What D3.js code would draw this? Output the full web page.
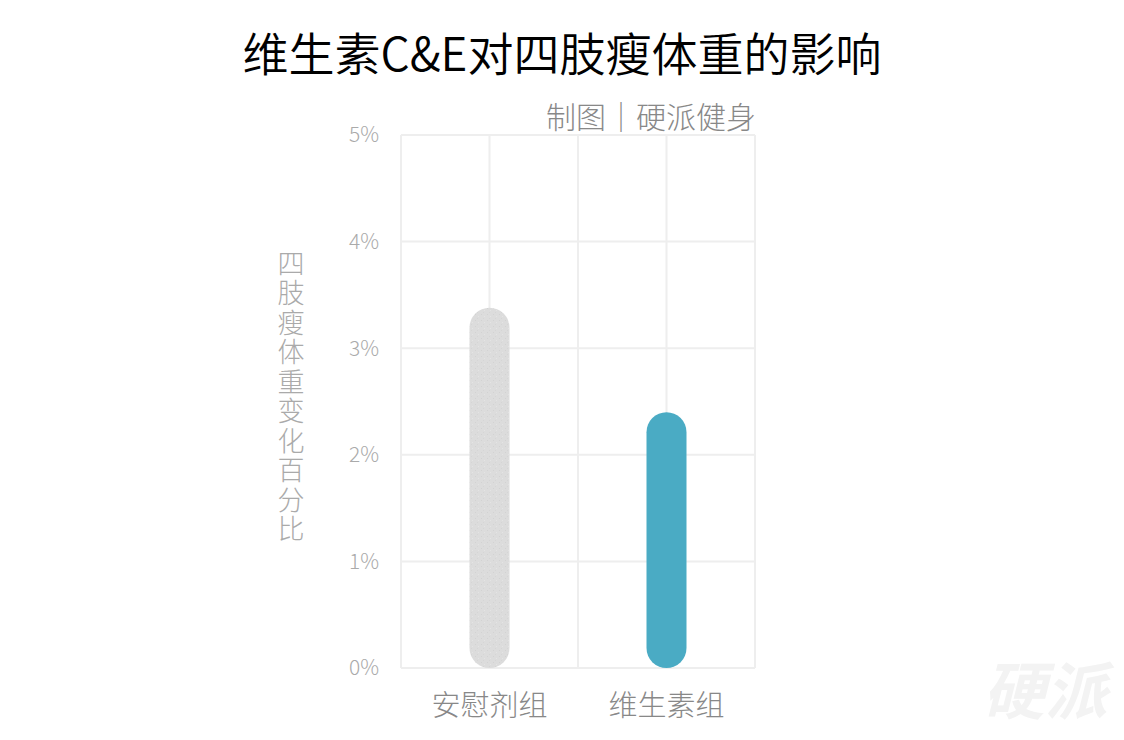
<!DOCTYPE html>
<html><head><meta charset="utf-8">
<script src="https://cdn.jsdelivr.net/npm/d3@7"></script>
<style>body{margin:0;background:#fff;}svg{display:block;}</style>
</head><body>
<svg id="c" width="1124" height="740"></svg>
<script>
const categories = ["安慰剂组", "维生素组"];
const values = [3.38, 2.4];
const barColors = ["#dcdcdc", "#4aabc4"];
const yTicks = [0, 1, 2, 3, 4, 5];
const titleText = "维生素C&E对四肢瘦体重的影响";
const subtitleText = "制图｜硬派健身";
const yTitle = "四肢瘦体重变化百分比";

const svg = d3.select("#c");
const font = "'Noto Sans CJK SC', 'Noto Sans', sans-serif";
const m = {l: 401, r: 755, t: 135, b: 668};
const y = d3.scaleLinear().domain([0, 5]).range([m.b, m.t]);
const x = d3.scaleBand().domain(categories).range([m.l, m.r]);
const xg = d3.scaleLinear().domain([0, 4]).range([m.l, m.r]);

// grid
svg.append("g").selectAll("line").data(yTicks).join("line")
  .attr("x1", m.l).attr("x2", m.r).attr("y1", d => y(d)).attr("y2", d => y(d))
  .attr("stroke", "#eeeeee").attr("stroke-width", 2);
svg.append("g").selectAll("line").data(d3.range(5)).join("line")
  .attr("y1", m.t).attr("y2", m.b).attr("x1", d => xg(d)).attr("x2", d => xg(d))
  .attr("stroke", "#eeeeee").attr("stroke-width", 2);

// y tick labels
svg.append("g").selectAll("text").data(yTicks).join("text")
  .attr("x", 379).attr("y", d => y(d)).attr("dy", "0.35em")
  .attr("text-anchor", "end").attr("font-family", font).attr("font-size", 21)
  .attr("font-weight", 300)
  .attr("fill", "#aaaaaa").text(d => d + "%");

// noise pattern for grey bar
const defs = svg.append("defs");
const pat = defs.append("pattern").attr("id", "noise").attr("patternUnits", "userSpaceOnUse")
  .attr("width", 6).attr("height", 6);
pat.append("rect").attr("width", 6).attr("height", 6).attr("fill", barColors[0]);
pat.append("rect").attr("x", 1).attr("y", 2).attr("width", 1).attr("height", 1).attr("fill", "#d2d2d2");
pat.append("rect").attr("x", 4).attr("y", 4).attr("width", 1).attr("height", 1).attr("fill", "#e4e4e4");
pat.append("rect").attr("x", 3).attr("y", 0).attr("width", 1).attr("height", 1).attr("fill", "#d5d5d5");

// bars (pill shaped)
const bw = 40;
svg.append("g").selectAll("rect").data(values).join("rect")
  .attr("x", (d, i) => x(categories[i]) + x.bandwidth() / 2 - bw / 2)
  .attr("width", bw)
  .attr("y", d => y(d))
  .attr("height", d => y(0) - y(d))
  .attr("rx", bw / 2).attr("ry", bw / 2)
  .attr("fill", (d, i) => i === 0 ? "url(#noise)" : barColors[i]);

// x labels
svg.append("g").selectAll("text").data(categories).join("text")
  .attr("x", d => x(d) + x.bandwidth() / 2).attr("y", 716)
  .attr("text-anchor", "middle").attr("font-family", font).attr("font-size", 29)
  .attr("font-weight", 300)
  .attr("fill", "#888888").text(d => d);

// title
svg.append("text").attr("x", 562).attr("y", 71).attr("text-anchor", "middle")
  .attr("font-family", font).attr("font-size", 46).attr("font-weight", 350)
  .attr("fill", "#000").text(titleText);
// subtitle
svg.append("text").attr("x", 756).attr("y", 128).attr("text-anchor", "end")
  .attr("font-family", font).attr("font-size", 30).attr("font-weight", 300)
  .attr("fill", "#888888").text(subtitleText);

// y title vertical
svg.append("text").attr("x", 291).attr("y", 250)
  .style("writing-mode", "vertical-rl")
  .attr("font-family", font).attr("font-size", 27).attr("font-weight", 300)
  .attr("letter-spacing", 2.5)
  .attr("fill", "#aaaaaa").text(yTitle);

// watermark
svg.append("text").attr("x", 1045).attr("y", 714).attr("text-anchor", "middle")
  .attr("font-family", font).attr("font-size", 62).attr("font-weight", "bold")
  .attr("font-style", "italic").attr("fill", "#f3f3f3")
  .text("硬派");
</script>
</body></html>
